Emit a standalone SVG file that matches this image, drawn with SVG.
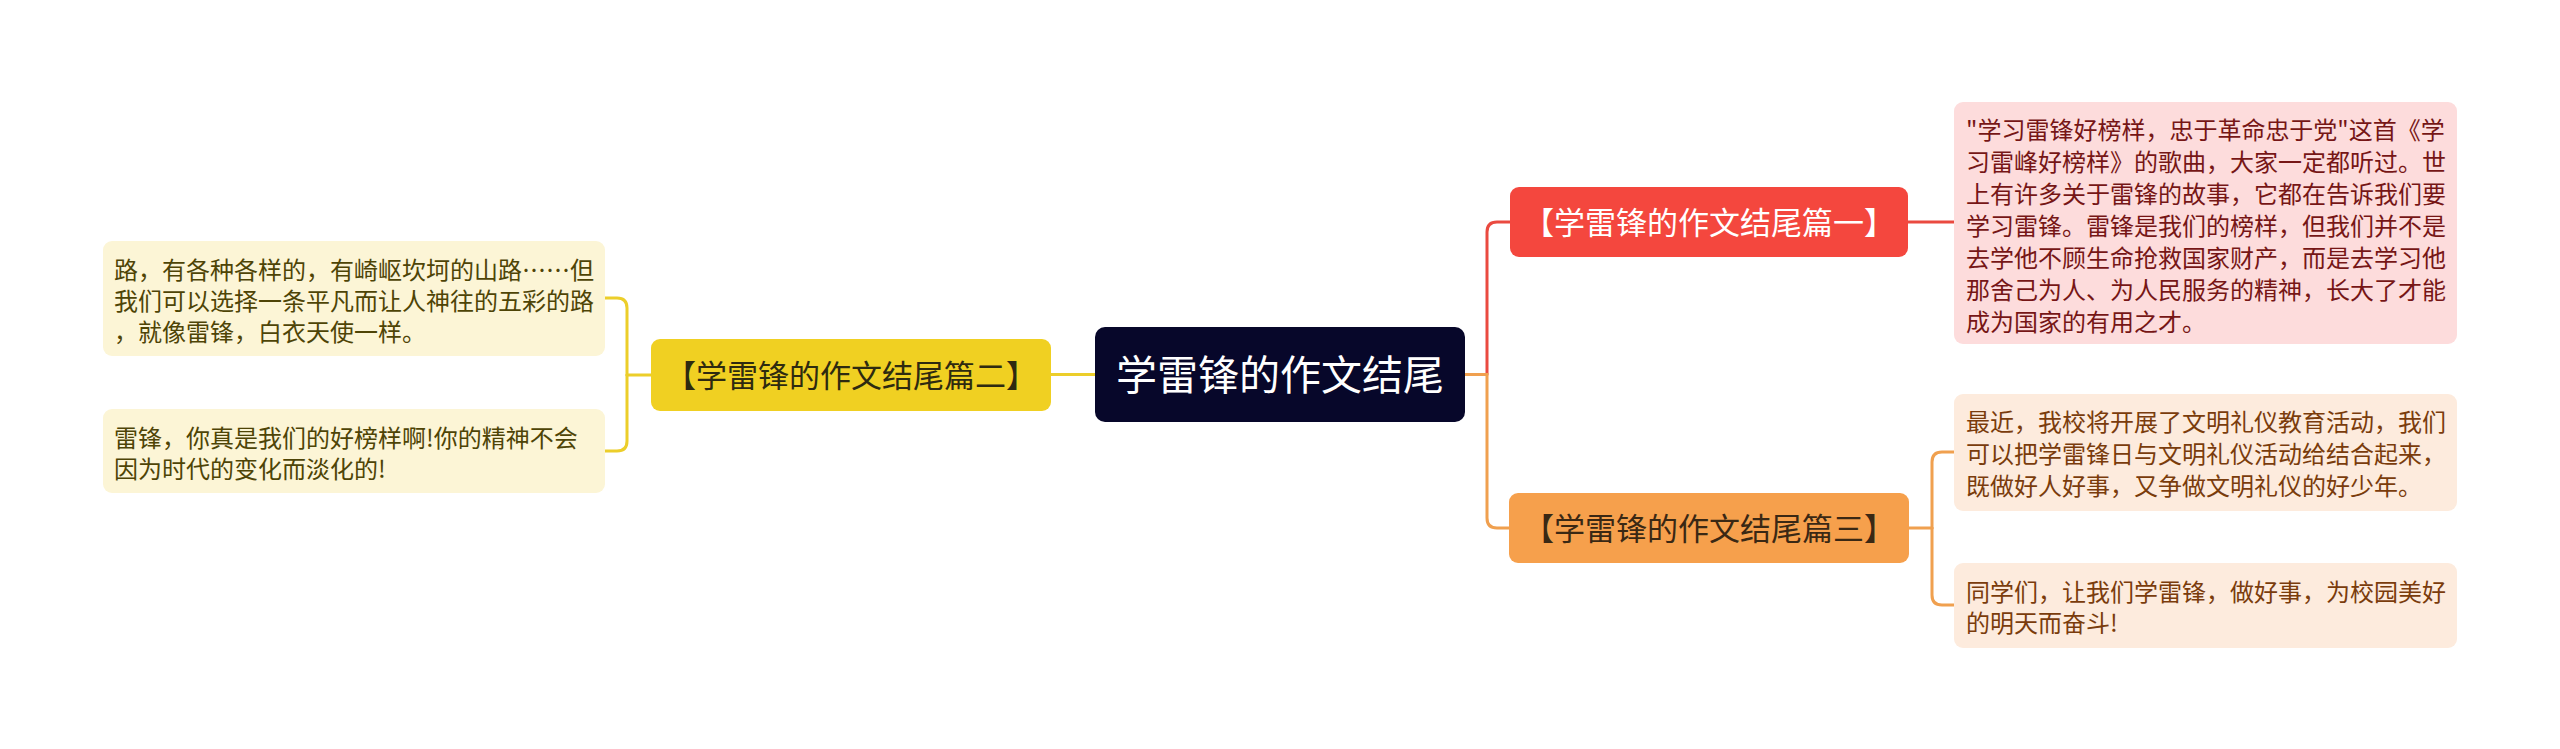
<svg xmlns="http://www.w3.org/2000/svg" width="2560" height="749" viewBox="0 0 2560 749">
<style>
text{font-family:"Noto Sans CJK SC","Noto Sans",sans-serif;}
.conn{fill:none;stroke-width:3;stroke-linecap:round;}
.c-red{stroke:#ea4a40;}
.c-org{stroke:#f0a04f;}
.c-yel{stroke:#ecce2a;}
.title{font-size:41px;fill:#ffffff;text-anchor:middle;}
.branch{font-size:31px;text-anchor:middle;}
.leaf{font-size:24px;}
.t-red{fill:#761616;}
.t-org{fill:#7a3c0c;}
.t-yel{fill:#4e4406;}
</style>
<rect width="2560" height="749" fill="#ffffff"/>
<g id="connectors">
<path class="conn c-red" d="M1487,374.5 V232 Q1487,222 1497,222 H1510"/>
<path class="conn c-org" d="M1465,374.5 H1487 V518 Q1487,528 1497,528 H1509"/>
<path class="conn c-red" d="M1908,222 H1954"/>
<path class="conn c-org" d="M1909,528 H1932"/>
<path class="conn c-org" d="M1932,528 V462 Q1932,452 1942,452 H1954"/>
<path class="conn c-org" d="M1932,528 V595 Q1932,605 1942,605 H1954"/>
<path class="conn c-yel" d="M1095,374.5 H1051"/>
<path class="conn c-yel" d="M651,375 H627"/>
<path class="conn c-yel" d="M627,375 V308 Q627,298 617,298 H605"/>
<path class="conn c-yel" d="M627,375 V441 Q627,451 617,451 H605"/>
</g>
<g id="root">
<rect x="1095" y="327" width="370" height="95" rx="10" fill="#07072a"/>
<text class="title" x="1280" y="390">学雷锋的作文结尾</text>
</g>
<g id="branch1">
<rect x="1510" y="187" width="398" height="70" rx="9" fill="#f4473e"/>
<text class="branch" x="1709" y="234" fill="#ffffff">【学雷锋的作文结尾篇一】</text>
</g>
<g id="branch2">
<rect x="651" y="339" width="400" height="72" rx="9" fill="#f0d022"/>
<text class="branch" x="851" y="387" fill="#2e2a10">【学雷锋的作文结尾篇二】</text>
</g>
<g id="branch3">
<rect x="1509" y="493" width="400" height="70" rx="9" fill="#f6a04c"/>
<text class="branch" x="1709" y="540" fill="#3a2814">【学雷锋的作文结尾篇三】</text>
</g>
<g id="leaf1">
<rect x="1954" y="102" width="503" height="242" rx="9" fill="#fddcdc"/>
<text class="leaf t-red">
<tspan x="1966" y="139">"学习雷锋好榜样，忠于革命忠于党"这首《学</tspan>
<tspan x="1966" y="171">习雷峰好榜样》的歌曲，大家一定都听过。世</tspan>
<tspan x="1966" y="203">上有许多关于雷锋的故事，它都在告诉我们要</tspan>
<tspan x="1966" y="235">学习雷锋。雷锋是我们的榜样，但我们并不是</tspan>
<tspan x="1966" y="267">去学他不顾生命抢救国家财产，而是去学习他</tspan>
<tspan x="1966" y="299">那舍己为人、为人民服务的精神，长大了才能</tspan>
<tspan x="1966" y="331">成为国家的有用之才。</tspan>
</text>
</g>
<g id="leaf2a">
<rect x="103" y="241" width="502" height="115" rx="9" fill="#fcf5d6"/>
<text class="leaf t-yel">
<tspan x="114" y="279">路，有各种各样的，有崎岖坎坷的山路……但</tspan>
<tspan x="114" y="310">我们可以选择一条平凡而让人神往的五彩的路</tspan>
<tspan x="114" y="341">，就像雷锋，白衣天使一样。</tspan>
</text>
</g>
<g id="leaf2b">
<rect x="103" y="409" width="502" height="84" rx="9" fill="#fcf5d6"/>
<text class="leaf t-yel">
<tspan x="114" y="447">雷锋，你真是我们的好榜样啊!你的精神不会</tspan>
<tspan x="114" y="478">因为时代的变化而淡化的!</tspan>
</text>
</g>
<g id="leaf3a">
<rect x="1954" y="394" width="503" height="117" rx="9" fill="#fdebdd"/>
<text class="leaf t-org">
<tspan x="1966" y="431">最近，我校将开展了文明礼仪教育活动，我们</tspan>
<tspan x="1966" y="463">可以把学雷锋日与文明礼仪活动给结合起来，</tspan>
<tspan x="1966" y="495">既做好人好事，又争做文明礼仪的好少年。</tspan>
</text>
</g>
<g id="leaf3b">
<rect x="1954" y="563" width="503" height="85" rx="9" fill="#fdebdd"/>
<text class="leaf t-org">
<tspan x="1966" y="601">同学们，让我们学雷锋，做好事，为校园美好</tspan>
<tspan x="1966" y="632">的明天而奋斗!</tspan>
</text>
</g>
</svg>
